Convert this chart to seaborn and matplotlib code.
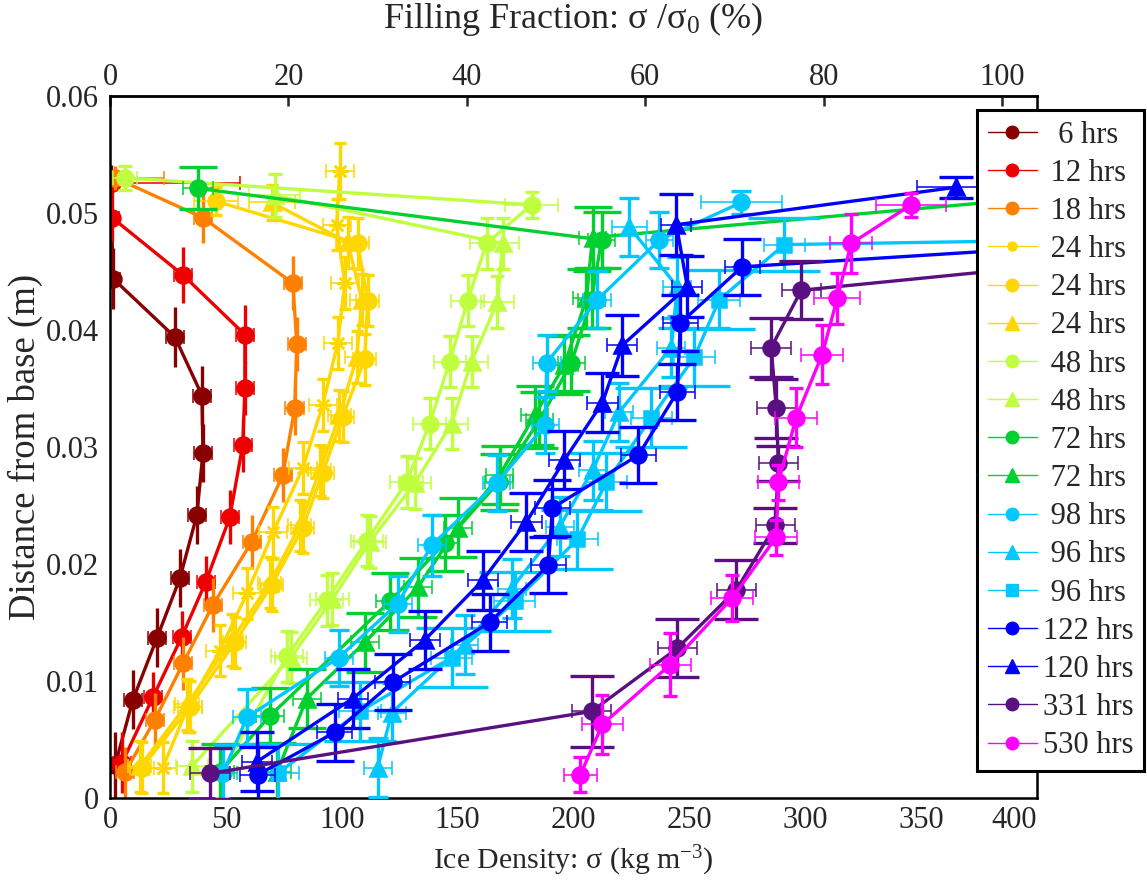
import matplotlib
matplotlib.use("Agg")
import matplotlib.pyplot as plt
from matplotlib.lines import Line2D
import numpy as np
import seaborn as sns

sns.set_style("white")
plt.rcParams["font.family"] = ["Liberation Serif", "DejaVu Serif"]
plt.rcParams["mathtext.fontset"] = "custom"
plt.rcParams["mathtext.rm"] = "Liberation Serif"
plt.rcParams["mathtext.it"] = "Liberation Serif:italic"
plt.rcParams["mathtext.bf"] = "Liberation Serif:bold"

# reference density used for the filling-fraction axis (kg m^-3)
SIGMA0 = 385.0

# ---- profiles: ice density (kg m^-3) vs height above base (m) ----
x_6h = [0.4, 1.3, 28.0, 39.7, 40.1, 37.5, 30.2, 20.3, 9.9, 2.2]
y_6h = [0.0526, 0.0444, 0.0394, 0.0344, 0.0295, 0.0242, 0.0188, 0.0137, 0.0084, 0.0028]
xe_6h = [3, 3, 4, 4, 4, 4, 4, 4, 4, 4]
ye_6h = [0.0015, 0.0026, 0.0026, 0.0025, 0.0025, 0.0025, 0.0025, 0.0025, 0.0025, 0.0028]

x_12h = [0.9, 0.9, 31.5, 58.2, 58.2, 57.3, 51.7, 41.4, 31.0, 18.5, 5.2]
y_12h = [0.0526, 0.0496, 0.0447, 0.0396, 0.0350, 0.0302, 0.0240, 0.0185, 0.0138, 0.0086, 0.0030]
xe_12h = [55, 3, 4, 4, 4, 4, 4, 4, 4, 4, 4]
ye_12h = [0.0010, 0.0020, 0.0024, 0.0025, 0.0023, 0.0023, 0.0023, 0.0022, 0.0022, 0.0022, 0.0026]

x_18h = [2.2, 40.1, 78.9, 80.6, 79.7, 74.6, 61.2, 44.4, 31.5, 19.4, 6.5]
y_18h = [0.0530, 0.0496, 0.0440, 0.0388, 0.0333, 0.0276, 0.0219, 0.0165, 0.0115, 0.0067, 0.0022]
xe_18h = [21, 4, 4, 4, 4, 4, 4, 4, 4, 4, 4]
ye_18h = [0.0010, 0.0022, 0.0023, 0.0023, 0.0023, 0.0023, 0.0023, 0.0023, 0.0023, 0.0023, 0.0022]

x_24a = [99.1, 97.8, 101.3, 98.3, 91.8, 83.2, 70.3, 59.1, 47.4, 33.6, 22.8]
y_24a = [0.0536, 0.0490, 0.0440, 0.0389, 0.0336, 0.0282, 0.0227, 0.0175, 0.0126, 0.0078, 0.0026]
xe_24a = [6, 6, 6, 6, 6, 6, 6, 6, 6, 6, 6]
ye_24a = [0.0024, 0.0022, 0.0022, 0.0022, 0.0022, 0.0022, 0.0022, 0.0022, 0.0022, 0.0022, 0.0022]

x_24b = [45.7, 106.9, 111.2, 109.9, 100.4, 91.8, 83.2, 69.8, 53.9, 34.5, 13.8]
y_24b = [0.0510, 0.0474, 0.0425, 0.0375, 0.0326, 0.0278, 0.0231, 0.0182, 0.0133, 0.0078, 0.0026]
xe_24b = [9.5, 5, 5, 5, 5, 5, 5, 5, 5, 5, 5]
ye_24b = [0.0012, 0.0022, 0.0022, 0.0022, 0.0022, 0.0022, 0.0022, 0.0022, 0.0022, 0.0022, 0.0022]

x_24c = [69.8, 102.6, 108.6, 106.5, 99.0, 90.5, 81.9, 69.0, 52.6, 33.2, 12.9]
y_24c = [0.0509, 0.0475, 0.0426, 0.0377, 0.0327, 0.0280, 0.0233, 0.0184, 0.0135, 0.0080, 0.0027]
xe_24c = [10, 5, 5, 5, 5, 5, 5, 5, 5, 5, 5]
ye_24c = [0.0015, 0.0022, 0.0022, 0.0022, 0.0022, 0.0022, 0.0022, 0.0022, 0.0022, 0.0022, 0.0022]

x_48a = [6.5, 181.9, 162.5, 154.3, 146.6, 137.9, 128.0, 110.8, 93.5, 76.3, 48.3]
y_48a = [0.0530, 0.0507, 0.0474, 0.0425, 0.0373, 0.0320, 0.0270, 0.0220, 0.0169, 0.0121, 0.0022]
xe_48a = [5, 11.5, 7, 7, 7, 7, 7, 7, 7, 7, 7]
ye_48a = [0.0010, 0.0011, 0.0022, 0.0022, 0.0022, 0.0022, 0.0022, 0.0022, 0.0022, 0.0022, 0.0022]

x_48b = [71.1, 169.4, 167.2, 156.0, 147.4, 131.5, 112.1, 96.0, 78.0, 35.3]
y_48b = [0.0515, 0.0474, 0.0424, 0.0373, 0.0320, 0.0269, 0.0219, 0.0170, 0.0120, 0.0027]
xe_48b = [11, 7, 7, 7, 7, 7, 7, 7, 7, 7]
ye_48b = [0.0018, 0.0022, 0.0022, 0.0022, 0.0022, 0.0022, 0.0022, 0.0022, 0.0022, 0.0022]

x_72a = [37.9, 212.1, 207.8, 199.1, 185.3, 167.7, 144.4, 120.7, 68.9, 47.4]
y_72a = [0.0521, 0.0477, 0.0426, 0.0372, 0.0323, 0.0270, 0.0218, 0.0168, 0.0070, 0.0022]
xe_72a = [6.5, 6, 6, 6, 6, 6, 6, 6, 6, 6]
ye_72a = [0.0018, 0.0024, 0.0024, 0.0024, 0.0024, 0.0024, 0.0024, 0.0024, 0.0024, 0.0024]

x_72b = [430.0, 208.2, 205.6, 196.1, 183.2, 168.1, 150.0, 132.8, 109.9, 84.9, 72.0]
y_72b = [0.0518, 0.0479, 0.0427, 0.0370, 0.0327, 0.0276, 0.0231, 0.0180, 0.0133, 0.0085, 0.0022]
xe_72b = [6, 6, 6, 6, 6, 6, 6, 6, 6, 6, 6]
ye_72b = [0.0024, 0.0026, 0.0025, 0.0025, 0.0025, 0.0025, 0.0025, 0.0025, 0.0025, 0.0025, 0.0025]

x_98 = [272.4, 237.1, 210.3, 188.4, 187.9, 166.8, 138.8, 124.1, 98.7, 59.1, 48.7]
y_98 = [0.0509, 0.0477, 0.0426, 0.0372, 0.0319, 0.0269, 0.0216, 0.0166, 0.0120, 0.0069, 0.0021]
xe_98 = [17.5, 6, 6, 6, 6, 6, 6, 6, 6, 6, 6]
ye_98 = [0.0010, 0.0024, 0.0024, 0.0024, 0.0024, 0.0024, 0.0026, 0.0024, 0.0024, 0.0024, 0.0024]

x_96a = [224.1, 244.8, 242.2, 219.8, 208.2, 194.0, 173.3, 153.0, 121.6, 115.5]
y_96a = [0.0488, 0.0437, 0.0385, 0.0330, 0.0280, 0.0232, 0.0179, 0.0131, 0.0073, 0.0026]
xe_96a = [7.5, 6, 6, 6, 6, 6, 6, 6, 6, 6]
ye_96a = [0.0025, 0.0025, 0.0025, 0.0025, 0.0025, 0.0025, 0.0025, 0.0025, 0.0025, 0.0025]

x_96b = [450.0, 291.0, 262.9, 252.2, 233.6, 214.2, 201.7, 174.6, 147.4, 107.8, 72.4]
y_96b = [0.0478, 0.0473, 0.0426, 0.0377, 0.0325, 0.0270, 0.0221, 0.0168, 0.0120, 0.0074, 0.0021]
xe_96b = [9, 9, 9, 9, 9, 9, 9, 9, 9, 9, 9]
ye_96b = [0.0023, 0.0023, 0.0025, 0.0025, 0.0025, 0.0025, 0.0025, 0.0025, 0.0025, 0.0025, 0.0025]

x_122 = [440.0, 272.8, 246.1, 244.8, 228.0, 190.9, 189.2, 163.8, 122.0, 97.0, 63.8]
y_122 = [0.0475, 0.0454, 0.0406, 0.0347, 0.0293, 0.0248, 0.0199, 0.0150, 0.0099, 0.0056, 0.0020]
xe_122 = [7.5, 7.5, 7.5, 7.5, 7.5, 7.5, 7.5, 7.5, 7.5, 7.5, 7.5]
ye_122 = [0.0024, 0.0024, 0.0024, 0.0024, 0.0024, 0.0024, 0.0024, 0.0024, 0.0024, 0.0024, 0.0024]

x_120 = [365.1, 244.4, 249.1, 221.1, 212.5, 196.1, 179.7, 160.8, 135.8, 104.7, 63.4]
y_120 = [0.0522, 0.0490, 0.0437, 0.0387, 0.0338, 0.0289, 0.0236, 0.0186, 0.0135, 0.0085, 0.0031]
xe_120 = [17, 6.5, 6.5, 6.5, 6.5, 6.5, 6.5, 6.5, 6.5, 6.5, 6.5]
ye_120 = [0.0009, 0.0026, 0.0026, 0.0026, 0.0025, 0.0025, 0.0025, 0.0025, 0.0025, 0.0025, 0.0025]

x_331 = [430.0, 298.3, 285.3, 287.5, 288.4, 287.1, 270.3, 244.8, 207.8, 43.1]
y_331 = [0.0460, 0.0434, 0.0385, 0.0333, 0.0286, 0.0233, 0.0178, 0.0128, 0.0074, 0.0021]
xe_331 = [8.5, 8.5, 8.5, 8.5, 8.5, 8.5, 8.5, 8.5, 8.5, 8.5]
ye_331 = [0.0025, 0.0025, 0.0025, 0.0025, 0.0015, 0.0015, 0.0025, 0.0025, 0.0030, 0.0022]

x_530 = [345.7, 319.8, 313.8, 307.3, 296.1, 288.4, 287.5, 268.5, 241.8, 212.5, 203.0]
y_530 = [0.0507, 0.0474, 0.0427, 0.0379, 0.0325, 0.0270, 0.0223, 0.0171, 0.0114, 0.0063, 0.0020]
xe_530 = [15, 9, 10, 9, 9, 9, 9, 9, 9, 9, 7]
ye_530 = [0.0010, 0.0025, 0.0022, 0.0025, 0.0025, 0.0015, 0.0015, 0.0020, 0.0027, 0.0025, 0.0015]

labels = ["6 hrs", "12 hrs", "18 hrs", "24 hrs", "24 hrs", "24 hrs", "48 hrs", "48 hrs",
          "72 hrs", "72 hrs", "98 hrs", "96 hrs", "96 hrs", "122 hrs", "120 hrs",
          "331 hrs", "530 hrs"]

C_DRED, C_RED, C_ORANGE = "#880000", "#EE0000", "#FF8000"
C_GOLD, C_LIME, C_GREEN = "#FFD700", "#BFFF3F", "#00D030"
C_CYAN, C_BLUE, C_PURPLE, C_MAG = "#00C8FF", "#0000FF", "#5A1080", "#FF00FF"

ASTERISK = (8, 2, 0)

# (x, y, xerr, yerr, colour, plot marker, marker size, legend marker, legend size, cap size)
series = [
    (x_6h, y_6h, xe_6h, ye_6h, C_DRED, "o", 11.5, "o", 9, 0),
    (x_12h, y_12h, xe_12h, ye_12h, C_RED, "o", 11.5, "o", 9, 0),
    (x_18h, y_18h, xe_18h, ye_18h, C_ORANGE, "o", 11.5, "o", 9, 0),
    (x_24a, y_24a, xe_24a, ye_24a, C_GOLD, ASTERISK, 11.5, "o", 6.5, 4),
    (x_24b, y_24b, xe_24b, ye_24b, C_GOLD, "o", 11.5, "o", 9, 4),
    (x_24c, y_24c, xe_24c, ye_24c, C_GOLD, "^", 11.5, "^", 10, 4),
    (x_48a, y_48a, xe_48a, ye_48a, C_LIME, "o", 11.5, "o", 9, 5),
    (x_48b, y_48b, xe_48b, ye_48b, C_LIME, "^", 11.5, "^", 10, 5),
    (x_72a, y_72a, xe_72a, ye_72a, C_GREEN, "o", 11.5, "o", 9, 14),
    (x_72b, y_72b, xe_72b, ye_72b, C_GREEN, "^", 11.5, "^", 10, 14),
    (x_98, y_98, xe_98, ye_98, C_CYAN, "o", 11.5, "o", 9, 7),
    (x_96a, y_96a, xe_96a, ye_96a, C_CYAN, "^", 11.5, "^", 10, 7),
    (x_96b, y_96b, xe_96b, ye_96b, C_CYAN, "s", 9.5, "s", 8, 26),
    (x_122, y_122, xe_122, ye_122, C_BLUE, "o", 11.5, "o", 9, 14),
    (x_120, y_120, xe_120, ye_120, C_BLUE, "^", 11.5, "^", 10, 12),
    (x_331, y_331, xe_331, ye_331, C_PURPLE, "o", 11.5, "o", 9, 16),
    (x_530, y_530, xe_530, ye_530, C_MAG, "o", 11.5, "o", 9, 5),
]

fig = plt.figure(figsize=(11.47, 8.84), dpi=100)
ax = fig.add_axes([0.0959, 0.0973, 0.8082, 0.7941])

for i, (xs, ys, xe, ye, col, mk, ms, lmk, lms, vcap) in enumerate(series):
    z = 2 + i * 0.1
    ax.errorbar(xs, ys, yerr=ye, fmt="none", ecolor=col, elinewidth=2.4,
                capsize=vcap, capthick=2.4, zorder=z)
    ax.errorbar(xs, ys, xerr=xe, fmt="none", ecolor=col, elinewidth=1.1,
                capsize=5, capthick=1.1, zorder=z)
    sns.lineplot(x=xs, y=ys, sort=False, estimator=None, color=col, marker=mk,
                 markersize=ms, markeredgecolor=col, markerfacecolor=col,
                 markeredgewidth=1.8, linewidth=2.4, ax=ax, zorder=z + 0.05,
                 legend=False)

ax.set_xlim(0, 400)
ax.set_ylim(0, 0.06)
ax.set_xticks(np.arange(0, 401, 50))
ax.set_xticklabels([str(v) for v in range(0, 401, 50)])
ax.set_yticks(np.arange(0, 0.0601, 0.01))
ax.set_yticklabels(["0", "0.01", "0.02", "0.03", "0.04", "0.05", "0.06"])
ax.tick_params(direction="in", length=7, width=1.8, labelsize=22, top=False, right=False)
ax.tick_params(axis="x", pad=6)
ax.tick_params(axis="y", pad=8)
ax.xaxis.get_major_ticks()[-1].label1.set_horizontalalignment("right")
for sp in ax.spines.values():
    sp.set_linewidth(1.8)
    sp.set_color("black")

ax.set_xlabel("Ice Density: σ (kg m$^{-3}$)", fontsize=21.5, labelpad=6)
ax.set_ylabel("Distance from base (m)", fontsize=26.5, labelpad=2)

sec = ax.secondary_xaxis("top", functions=(lambda v: v / SIGMA0 * 100.0,
                                           lambda p: p * SIGMA0 / 100.0))
sec.set_xticks(np.arange(0, 101, 20))
sec.tick_params(direction="in", length=7, width=1.8, labelsize=22, pad=3)
sec.spines["top"].set_linewidth(1.8)
sec.set_xlabel("Filling Fraction: σ /σ$_0$ (%)", fontsize=26, labelpad=25)

handles = [Line2D([], [], color=s[4], lw=1.0, marker=s[7], markersize=s[8],
                  markeredgecolor=s[4], markerfacecolor=s[4]) for s in series]
pad_labels = [("  " if len(l) == 5 else " " if len(l) == 6 else "") + l for l in labels]
leg = fig.legend(handles, pad_labels, loc="upper left", bbox_to_anchor=(0.8518, 0.8756),
                 frameon=True, fancybox=False, shadow=False, fontsize=22,
                 handlelength=1.6, handletextpad=0.2, labelspacing=0.30,
                 borderpad=0.35, borderaxespad=0.0)
leg.get_frame().set_edgecolor("black")
leg.get_frame().set_linewidth(2.2)
leg.get_frame().set_facecolor("white")
leg.get_frame().set_alpha(1.0)

fig.savefig("out.png", dpi=100, facecolor="white")
